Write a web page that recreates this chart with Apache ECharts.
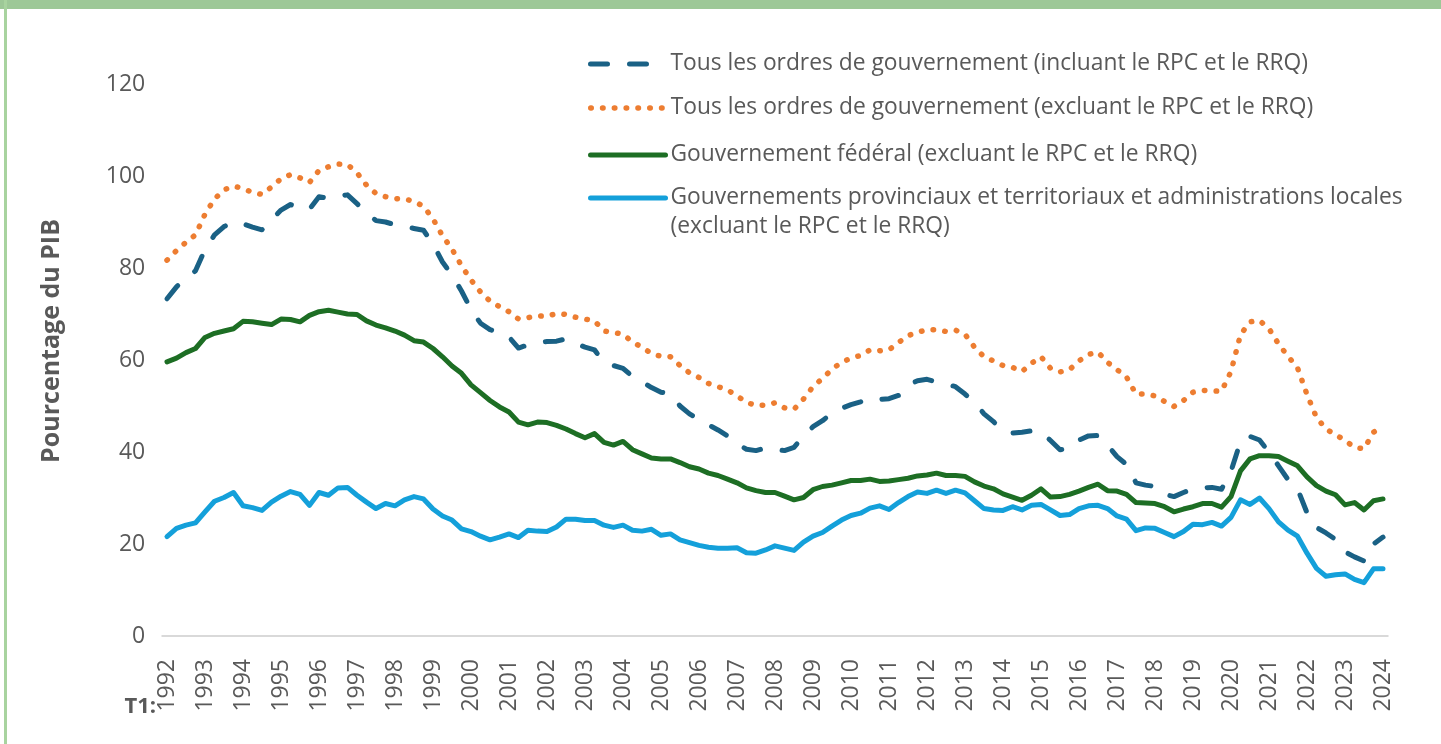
<!DOCTYPE html>
<html>
<head>
<meta charset="utf-8">
<script src="https://cdn.jsdelivr.net/npm/echarts/dist/echarts.min.js"></script>
<style>
  html, body { margin: 0; padding: 0; background: #fff; }
  #chart { width: 1441px; height: 744px; }
</style>
</head>
<body>
<div id="chart"></div>
<script>
// années affichées sur l'axe (T1 de chaque année)
const years = [1992, 1993, 1994, 1995, 1996, 1997, 1998, 1999, 2000, 2001, 2002, 2003, 2004, 2005, 2006, 2007,
  2008, 2009, 2010, 2011, 2012, 2013, 2014, 2015, 2016, 2017, 2018, 2019, 2020, 2021, 2022, 2023, 2024];
const quarterNames = ['T1', 'T2', 'T3', 'T4'];

const seriesNames = [
  'Tous les ordres de gouvernement (incluant le RPC et le RRQ)',
  'Tous les ordres de gouvernement (excluant le RPC et le RRQ)',
  'Gouvernement fédéral (excluant le RPC et le RRQ)',
  'Gouvernements provinciaux et territoriaux et administrations locales (excluant le RPC et le RRQ)'
];

// % du PIB, trimestriel, 1992T1 -> 2024T1 (une ligne = une année)
const tousIncluant = [
  73.3, 75.9, 77.8, 79.4,
  84.0, 87.2, 89.0, 90.0,
  89.6, 88.9, 88.3, 90.5,
  92.6, 93.8, 92.9, 92.8,
  95.5, 95.1, 95.6, 95.9,
  94.0, 92.0, 90.3, 90.0,
  89.4, 89.0, 88.6, 88.2,
  85.2, 81.3, 78.5, 75.0,
  71.0, 68.0, 66.6, 65.9,
  65.0, 62.6, 63.3, 63.8,
  64.0, 64.1, 64.6, 63.6,
  62.8, 62.2, 59.5, 58.8,
  58.2, 56.4, 55.3, 54.0,
  53.0, 52.6, 50.0, 48.3,
  47.0, 45.9, 44.8, 43.5,
  41.8, 40.6, 40.3, 40.9,
  40.6, 40.3, 41.0, 43.4,
  45.5, 46.8, 48.5, 49.5,
  50.3, 50.9, 51.7, 51.4,
  51.6, 52.3, 54.5, 55.5,
  55.8, 55.2, 54.8, 54.2,
  52.6, 50.7, 48.3, 46.6,
  44.6, 44.1, 44.3, 44.6,
  44.4, 42.5, 40.5, 40.8,
  42.6, 43.5, 43.6, 41.5,
  39.0, 37.3, 33.3, 32.8,
  32.5, 30.8, 30.3, 31.2,
  32.0, 32.2, 32.3, 31.9,
  35.8, 42.3, 43.4, 42.6,
  40.0, 37.0, 34.0, 32.0,
  26.8, 23.6, 22.4, 21.0,
  18.3, 17.2, 16.3, 20.0,
  21.5
];

const tousExcluant = [
  81.7, 83.8, 85.6, 87.2,
  91.7, 95.0, 97.0, 97.8,
  97.3, 96.4, 96.0, 97.6,
  99.4, 100.3, 99.6, 98.6,
  101.2, 102.0, 102.6, 102.5,
  100.7, 98.0, 96.2, 95.5,
  95.1, 95.0, 94.5, 93.4,
  90.7, 87.0, 84.1, 80.5,
  77.4, 74.8, 72.8, 71.6,
  70.5, 68.9, 69.2, 69.6,
  69.5, 70.1, 69.9, 69.3,
  68.9, 68.5, 66.3, 66.0,
  65.6, 63.9, 62.8, 61.4,
  60.8, 60.7, 58.8, 57.2,
  56.2, 54.9, 54.2, 53.5,
  52.2, 50.8, 50.1, 50.2,
  50.7, 49.6, 49.3, 51.5,
  54.2, 56.0, 58.0, 59.5,
  60.4, 61.0, 62.2, 62.0,
  62.2, 63.8, 65.3, 66.0,
  66.6, 66.6, 66.2, 66.5,
  65.6, 62.8, 60.7, 59.8,
  58.8, 58.4, 57.5, 59.3,
  60.7, 58.2, 57.4, 57.9,
  59.8, 61.2, 61.7, 59.5,
  57.9, 56.3, 52.6, 52.6,
  52.2, 51.0, 49.9, 51.2,
  53.0, 53.4, 53.3, 53.2,
  57.5, 65.5, 68.3, 68.6,
  66.8, 63.5, 60.8, 58.3,
  52.5, 47.5, 45.0, 43.8,
  42.5, 41.0, 40.7, 44.3,
  45.7
];

const federal = [
  59.6, 60.4, 61.6, 62.5,
  64.9, 65.8, 66.3, 66.8,
  68.4, 68.3, 68.0, 67.7,
  68.9, 68.8, 68.3, 69.7,
  70.5, 70.8, 70.4, 70.0,
  69.9, 68.5, 67.6, 67.0,
  66.3, 65.4, 64.2, 63.9,
  62.5, 60.7, 58.7, 57.1,
  54.6, 52.9, 51.2, 49.8,
  48.7, 46.5, 45.9, 46.5,
  46.4, 45.8, 45.0, 44.0,
  43.1, 44.0, 42.1, 41.5,
  42.3, 40.5, 39.6, 38.7,
  38.5, 38.5, 37.7, 36.8,
  36.3, 35.4, 34.9, 34.1,
  33.3, 32.2, 31.6, 31.2,
  31.2, 30.4, 29.6, 30.1,
  31.8, 32.5, 32.8, 33.3,
  33.8, 33.8, 34.1, 33.6,
  33.7, 34.0, 34.3, 34.8,
  35.0, 35.4, 34.9, 34.9,
  34.7, 33.5, 32.6, 32.0,
  30.9, 30.2, 29.5, 30.6,
  32.0, 30.2, 30.3, 30.8,
  31.5, 32.3, 33.0, 31.6,
  31.5, 30.8, 29.0, 28.9,
  28.8, 28.1, 27.0, 27.6,
  28.1, 28.8, 28.8, 28.0,
  30.3, 35.9, 38.5, 39.2,
  39.2, 39.0, 38.0, 37.0,
  34.6, 32.7, 31.5, 30.7,
  28.5, 29.0, 27.4, 29.4,
  29.8
];

const provincial = [
  21.6, 23.4, 24.1, 24.6,
  27.0, 29.3, 30.1, 31.2,
  28.3, 27.9, 27.3, 29.1,
  30.4, 31.4, 30.8, 28.4,
  31.2, 30.6, 32.2, 32.3,
  30.6, 29.1, 27.7, 28.8,
  28.3, 29.6, 30.3, 29.8,
  27.6, 26.1, 25.2, 23.3,
  22.7, 21.7, 20.9, 21.5,
  22.2, 21.4, 23.0, 22.8,
  22.7, 23.7, 25.4, 25.4,
  25.1, 25.1, 24.1, 23.6,
  24.1, 23.0, 22.8, 23.2,
  21.9, 22.2, 20.9, 20.3,
  19.7, 19.3, 19.1, 19.1,
  19.2, 18.1, 18.0, 18.7,
  19.6, 19.1, 18.6, 20.4,
  21.7, 22.5, 23.9, 25.2,
  26.2, 26.7, 27.8, 28.3,
  27.5, 29.0, 30.3, 31.3,
  31.0, 31.7, 31.0, 31.7,
  31.1, 29.4, 27.7, 27.4,
  27.3, 28.1, 27.4, 28.4,
  28.6, 27.4, 26.2, 26.4,
  27.7, 28.3, 28.4, 27.7,
  26.1, 25.4, 22.9, 23.5,
  23.4, 22.5, 21.6, 22.7,
  24.3, 24.2, 24.7, 23.9,
  25.8, 29.6, 28.6, 30.0,
  27.7, 24.8, 23.0, 21.7,
  18.0, 14.7, 13.0, 13.3,
  13.5, 12.3, 11.6, 14.6,
  14.6
];

// catégories trimestrielles
const categories = [];
years.forEach(function (y) {
  quarterNames.forEach(function (q) {
    if (y < 2024 || q === 'T1') categories.push(y + ' ' + q);
  });
});

const font = '"Open Sans"';
const grey = '#595959';
const colors = ['#1A6185', '#ED7D31', '#1D6E24', '#14A0DA'];
const lineTypes = [[17, 22], [0.5, 11.3], 'solid', 'solid'];
const lineWidths = [5, 5.5, 5, 5];
const dataList = [tousIncluant, tousExcluant, federal, provincial];

const chart = echarts.init(document.getElementById('chart'));

const legendTops = [49.5, 93.5, 140.5, 154.5];
const legends = seriesNames.map(function (name, k) {
  return {
    data: [name],
    left: 588,
    top: legendTops[k],
    orient: 'vertical',
    itemWidth: 75,
    itemHeight: 14,
    padding: 0,
    selectedMode: false,
    itemStyle: { opacity: 0 },
    lineStyle: { width: lineWidths[k] },
    textStyle: {
      fontFamily: font,
      fontSize: 22.8,
      lineHeight: 29,
      color: grey,
      rich: {
        h: { fontSize: 22.8, lineHeight: 29 },
        t: { fontFamily: font, fontSize: 22.8, lineHeight: 29, color: grey }
      }
    },
    formatter: k === 3 ? function () {
      return '{h| }\n{t|Gouvernements provinciaux et territoriaux et administrations locales}\n{t|(excluant le RPC et le RRQ)}';
    } : undefined
  };
});

chart.setOption({
  backgroundColor: '#ffffff',
  animation: false,
  legend: legends,
  grid: {
    left: 162.25,
    right: 53.25,
    top: 84,
    bottom: 108,
    containLabel: false
  },
  xAxis: {
    type: 'category',
    data: categories,
    boundaryGap: true,
    axisTick: { show: false },
    axisLine: { lineStyle: { color: '#D9D9D9', width: 2 } },
    axisLabel: {
      interval: 3,
      rotate: 90,
      margin: 23,
      fontFamily: font,
      fontSize: 23,
      color: grey,
      formatter: function (v) { return v.split(' ')[0]; }
    }
  },
  yAxis: {
    type: 'value',
    min: 0,
    max: 120,
    interval: 20,
    axisLine: { show: false },
    axisTick: { show: false },
    splitLine: { show: false },
    axisLabel: { fontFamily: font, fontSize: 23, color: grey, margin: 17 }
  },
  series: seriesNames.map(function (name, k) {
    return {
      name: name,
      type: 'line',
      data: dataList[k],
      symbol: 'none',
      z: 10 - k,
      lineStyle: {
        width: lineWidths[k],
        color: colors[k],
        type: lineTypes[k],
        cap: 'round',
        join: 'round'
      },
      itemStyle: { color: colors[k] }
    };
  }),
  graphic: [
    { type: 'rect', shape: { x: 0, y: 0, width: 1441, height: 9 }, style: { fill: '#9DC897' } },
    { type: 'rect', shape: { x: 4, y: 0, width: 3, height: 744 }, style: { fill: '#A8D39F' } },
    {
      type: 'text', x: 52, y: 341, rotation: Math.PI / 2,
      style: { text: 'Pourcentage du PIB', font: 'bold 25px "Open Sans"', fill: grey, align: 'center', verticalAlign: 'middle' }
    },
    {
      type: 'text', x: 156, y: 707,
      style: { text: 'T1:', font: 'bold 22px "Open Sans"', fill: grey, align: 'right', verticalAlign: 'middle' }
    }
  ]
});
</script>
</body>
</html>
